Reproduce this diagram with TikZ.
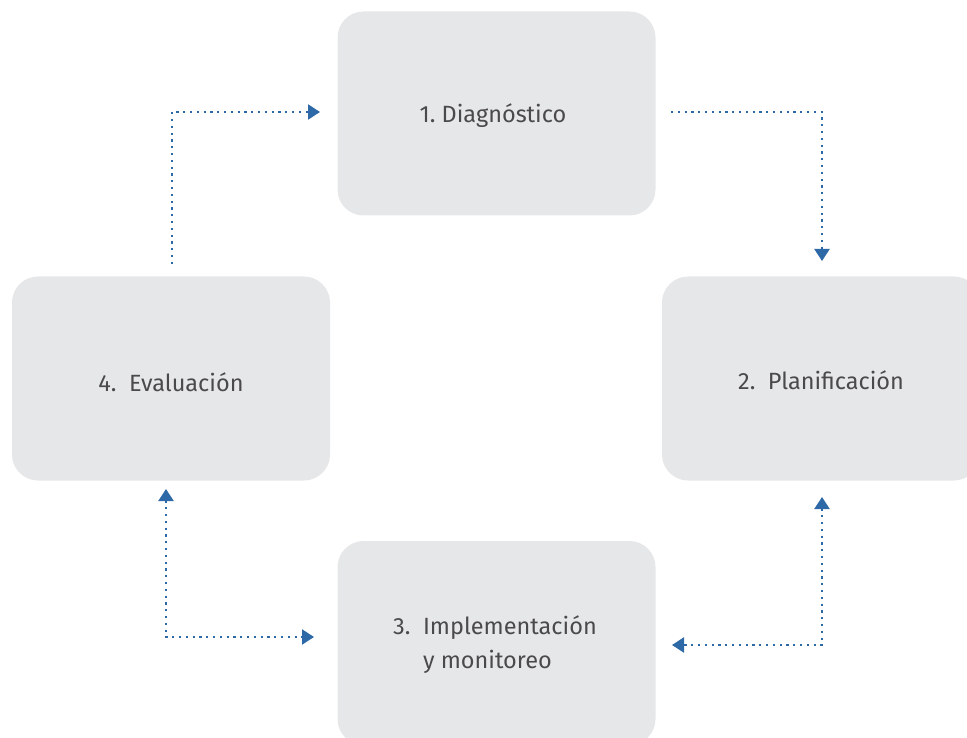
\documentclass[tikz,border=0pt]{standalone}
\usepackage{fontspec}
\setmainfont{Fira Sans}
\usetikzlibrary{arrows.meta}
\definecolor{boxgray}{HTML}{E6E7E9}
\definecolor{txtgray}{HTML}{4A4A4C}
\definecolor{arrblue}{HTML}{2D69A6}
\tikzset{
  stage/.style={draw=none, fill=boxgray, rounded corners=26pt, minimum width=318pt, minimum height=204pt, inner sep=0pt},
  label/.style={text=txtgray, font=\fontsize{23.5}{34}\selectfont, align=left, inner sep=0pt},
  flow/.style={arrblue, line width=2.2pt, dash pattern=on 2.2pt off 4.6pt, line cap=butt},
  tip/.style={-{Triangle[length=12pt,width=15pt]}},
  tips/.style={{Triangle[length=12pt,width=15pt]}-{Triangle[length=12pt,width=15pt]}}
}
\begin{document}
\begin{tikzpicture}[x=1pt,y=-1pt]
\useasboundingbox (0,0) rectangle (967,738);
\clip (0,0) rectangle (967,738);
\node[stage] (d) at (496.5,113.5) {};
\node[stage] (e) at (171,378.5) {};
\node[stage] (p) at (821,378.5) {};
\node[stage] (i) at (496.5,643) {};
\node[label] (dt) at (493,116) {1.\ Diagnóstico};
\node[label] (et) at (171,382) {4.\ \ Evaluación};
\node[label] (pt) at (821,380) {2.\ \ Planificación};
\node[label] (it) at (495,645) {3.\ \ Implementación\\\hphantom{3.\ \ }y monitoreo};
% connectors
\coordinate (a1s) at (172,264);
\coordinate (a1e) at (320,112);
\draw[flow,tip] (a1s) |- (a1e);
\coordinate (a2s) at (671,112);
\coordinate (a2e) at (822,261);
\draw[flow,tip] (a2s) -| (a2e);
\coordinate (a3s) at (166,489);
\coordinate (a3e) at (314,637);
\draw[flow,tips] (a3s) |- (a3e);
\coordinate (a4s) at (822,497);
\coordinate (a4e) at (672,645);
\draw[flow,tips] (a4s) |- (a4e);
\end{tikzpicture}
\end{document}
